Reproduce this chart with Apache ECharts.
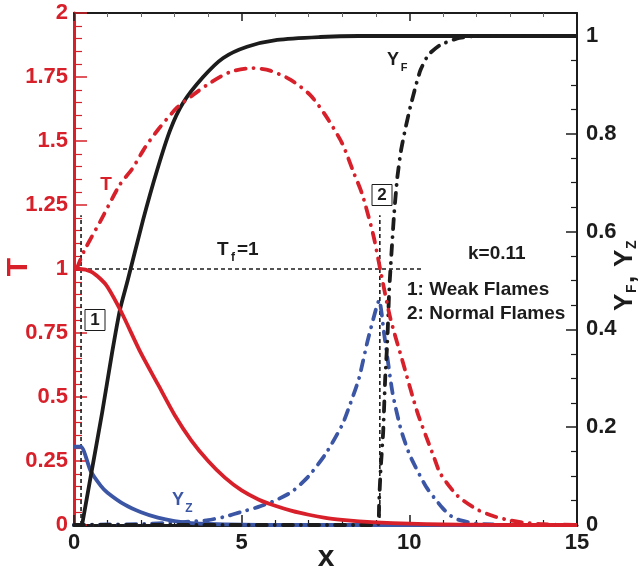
<!DOCTYPE html>
<html><head><meta charset="utf-8">
<script src="https://cdn.jsdelivr.net/npm/echarts/dist/echarts.min.js"></script>
<style>html,body{margin:0;padding:0;background:#fff}#c{width:643px;height:573px}</style>
</head><body><div id="c"></div>
<script>
// ---------- data ----------
const xTicks = [0, 5, 10, 15];
// T, weak flame (solid red, left axis)
const xTw = [0, 0.18, 0.5, 0.8, 1.0, 1.4, 2.0, 2.5, 3.0, 3.5, 4.0, 4.5, 5.0, 5.5, 6.0, 6.5, 7.0, 7.5, 8.0, 8.5, 9.0, 10, 11, 12, 13, 15];
const Tw  = [1.0, 1.0, 0.99, 0.96, 0.93, 0.835, 0.67, 0.55, 0.43, 0.33, 0.25, 0.185, 0.135, 0.1, 0.075, 0.055, 0.04, 0.028, 0.02, 0.014, 0.01, 0.005, 0.002, 0.001, 0, 0];
// T, normal flame (dash-dot red, left axis)
const xTn = [0.08, 0.3, 0.8, 1.37, 1.73, 2.12, 2.51, 3.07, 3.55, 4.06, 4.66, 5.34, 5.85, 6.45, 7.04, 7.5, 8.0, 8.33, 8.6, 8.93, 9.13, 9.43, 9.82, 10.24, 10.72, 10.93, 11.43, 12.0, 12.5, 13.0, 13.5, 14, 15];
const Tn  = [1.0, 1.07, 1.19, 1.33, 1.39, 1.475, 1.545, 1.63, 1.68, 1.727, 1.77, 1.785, 1.775, 1.74, 1.68, 1.60, 1.49, 1.38, 1.29, 1.13, 1.0, 0.81, 0.63, 0.44, 0.27, 0.2, 0.115, 0.062, 0.035, 0.018, 0.008, 0.003, 0];
// Y_F, weak flame (solid black, right axis)
const xFw = [0.24, 0.5, 0.84, 1.13, 1.37, 1.6, 2.06, 2.48, 2.87, 3.25, 3.85, 4.45, 5.16, 6.06, 7.34, 8.5, 15];
const Fw  = [0, 0.1, 0.23, 0.35, 0.44, 0.5, 0.624, 0.726, 0.808, 0.863, 0.916, 0.955, 0.978, 0.992, 0.998, 1.0, 1.0];
// Y_F, normal flame (dash-dot black, right axis)
const xFn = [0, 9.06, 9.1, 9.15, 9.22, 9.28, 9.34, 9.4, 9.49, 9.55, 9.64, 9.75, 9.88, 10.03, 10.18, 10.33, 10.57, 10.93, 11.43, 12, 15];
const Fn  = [0, 0, 0.05, 0.12, 0.19, 0.30, 0.37, 0.48, 0.58, 0.64, 0.71, 0.765, 0.81, 0.855, 0.895, 0.93, 0.962, 0.982, 0.995, 1, 1];
// Y_Z, weak flame (solid blue, right axis)
const xZw = [0, 0.2, 0.5, 0.8, 1.0, 1.5, 2.0, 2.5, 3.0, 3.5, 4, 5, 6, 15];
const Zw  = [0.16, 0.16, 0.11, 0.08, 0.066, 0.042, 0.026, 0.015, 0.008, 0.004, 0.002, 0.0005, 0, 0];
// Y_Z, normal flame (dash-dot blue, right axis)
const xZn = [0, 1, 2, 3, 3.5, 4, 4.5, 5, 5.5, 6, 6.5, 7, 7.5, 8, 8.25, 8.5, 8.75, 9.0, 9.1, 9.25, 9.5, 9.75, 10, 10.25, 10.5, 10.75, 11, 11.25, 11.5, 12, 13, 15];
const Zn  = [0, 0.001, 0.002, 0.005, 0.007, 0.01, 0.017, 0.027, 0.037, 0.05, 0.068, 0.1, 0.145, 0.205, 0.25, 0.3, 0.375, 0.44, 0.46, 0.39, 0.27, 0.195, 0.145, 0.11, 0.078, 0.055, 0.034, 0.018, 0.01, 0.003, 0, 0];
// reference lines
const tfLineX = [0, 10.4];      // T_f = 1 dashed line extent
const tfValue = 1;
const markerX = [0.21, 9.12];   // markers 1 (weak) and 2 (normal)
const markerTop = 1.21;

// ---------- styling ----------
const RED = '#d7202a', BLUE = '#3c56a6', BLACK = '#1c1c1c';
const FONT = '"Liberation Sans", Arial, sans-serif';
const DASHDOT = [10, 8, 0.1, 8];
const zip = (xs, ys) => xs.map((x, i) => [x, ys[i]]);

const chart = echarts.init(document.getElementById('c'), null, {renderer: 'canvas'});

function lineSeries(name, xs, ys, color, dashed, xi, yi, smooth) {
  return {
    name, type: 'line', data: zip(xs, ys), xAxisIndex: xi, yAxisIndex: yi,
    showSymbol: false, symbol: 'none', clip: false,
    smooth: smooth,
    lineStyle: {color, width: 3.8, type: dashed ? DASHDOT : 'solid', cap: dashed ? 'round' : 'butt', join: 'round'},
    z: 5, silent: true, animation: false
  };
}
function thinLine(data) {
  return {type: 'line', data, xAxisIndex: 0, yAxisIndex: 0, showSymbol: false, symbol: 'none', clip: false,
    lineStyle: {color: BLACK, width: 1.6, type: [4, 3]}, z: 3, silent: true, animation: false};
}
function txt(x, y, text, size, color, align, bold) {
  return {type: 'text', x, y, silent: true, z: 100,
    style: {text, font: `${bold === false ? '' : 'bold '}${size}px ${FONT}`, fill: color,
      align: align || 'center', textAlign: align || 'center', verticalAlign: 'middle', textVerticalAlign: 'middle'}};
}
function boxed(cx, cy, label) {
  return [
    {type: 'rect', shape: {x: cx - 10, y: cy - 10.5, width: 20, height: 21}, style: {fill: '#fff', stroke: BLACK, lineWidth: 1}, z: 99, silent: true},
    txt(cx, cy + 0.5, label, 17, BLACK, 'center')
  ];
}

const option = {
  backgroundColor: '#fff',
  animation: false,
  grid: [
    {left: 74, right: 66, top: 13, bottom: 48},
    {left: 74, right: 66, top: 36, bottom: 48}
  ],
  xAxis: [
    {gridIndex: 0, type: 'value', position: 'bottom', min: 0, max: 15, interval: 5,
      axisLine: {show: true, onZero: false, lineStyle: {color: BLACK, width: 3}},
      axisTick: {show: true, inside: true, length: 10, lineStyle: {color: BLACK, width: 1.5}},
      minorTick: {show: true, splitNumber: 5, length: 5, lineStyle: {color: BLACK, width: 1.2}},
      axisLabel: {color: BLACK, fontFamily: FONT, fontWeight: 'bold', fontSize: 22, margin: 7,
        formatter: v => xTicks.includes(v) ? String(v) : ''},
      splitLine: {show: false}},
    {gridIndex: 0, type: 'value', position: 'top', min: 0, max: 15, interval: 5,
      axisLine: {show: true, onZero: false, lineStyle: {color: BLACK, width: 2}},
      axisTick: {show: true, inside: true, length: 8, lineStyle: {color: BLACK, width: 1.5}},
      minorTick: {show: true, splitNumber: 5, length: 4, lineStyle: {color: '#666', width: 1}},
      axisLabel: {show: false}, splitLine: {show: false}},
    {gridIndex: 1, type: 'value', min: 0, max: 15, show: false}
  ],
  yAxis: [
    {gridIndex: 0, type: 'value', position: 'left', min: 0, max: 2, interval: 0.25,
      axisLine: {show: true, onZero: false, lineStyle: {color: RED, width: 3}},
      axisTick: {show: true, inside: true, length: 13, lineStyle: {color: RED, width: 1.5}},
      minorTick: {show: true, splitNumber: 5, length: 8, lineStyle: {color: RED, width: 1.2}},
      axisLabel: {color: RED, fontFamily: FONT, fontWeight: 'bold', fontSize: 22, margin: 6},
      splitLine: {show: false}},
    {gridIndex: 0, type: 'value', position: 'right', min: 0, max: 2,
      axisLine: {show: true, onZero: false, lineStyle: {color: BLACK, width: 2}},
      axisTick: {show: false}, axisLabel: {show: false}, splitLine: {show: false}},
    {gridIndex: 1, type: 'value', position: 'right', min: 0, max: 1, interval: 0.2,
      axisLine: {show: true, onZero: false, lineStyle: {color: BLACK, width: 2}},
      axisTick: {show: true, inside: true, length: 11, lineStyle: {color: BLACK, width: 1.5}},
      minorTick: {show: true, splitNumber: 4, length: 6, lineStyle: {color: BLACK, width: 1.2}},
      axisLabel: {color: BLACK, fontFamily: FONT, fontWeight: 'bold', fontSize: 22, margin: 9},
      splitLine: {show: false}}
  ],
  series: [
    thinLine([[tfLineX[0], tfValue], [tfLineX[1], tfValue]]),
    thinLine([[markerX[0], 0], [markerX[0], markerTop]]),
    thinLine([[markerX[1], 0], [markerX[1], markerTop]]),
    lineSeries('YZ weak', xZw, Zw, BLUE, false, 2, 2, 0.25),
    lineSeries('YZ normal', xZn, Zn, BLUE, true, 2, 2, 0.2),
    lineSeries('YF weak', xFw, Fw, BLACK, false, 2, 2, 0.25),
    lineSeries('YF normal', xFn, Fn, BLACK, true, 2, 2, 0.15),
    lineSeries('T weak', xTw, Tw, RED, false, 0, 0, 0.25),
    lineSeries('T normal', xTn, Tn, RED, true, 0, 0, 0.25)
  ],
  graphic: [
    // axis titles
    {type: 'text', x: 19, y: 267, rotation: Math.PI / 2, silent: true,
      style: {text: 'T', font: `bold 30px ${FONT}`, fill: RED, align: 'center', textAlign: 'center', verticalAlign: 'middle', textVerticalAlign: 'middle'}},
    txt(326, 558, 'x', 30, BLACK, 'center'),
    {type: 'group', x: 625, y: 311, rotation: Math.PI / 2, silent: true, children: [
      txt(0, 0, 'Y', 26, BLACK, 'left'),
      txt(18, 7, 'F', 14, BLACK, 'left'),
      txt(28, 2, ',', 26, BLACK, 'left'),
      txt(44, 0, 'Y', 26, BLACK, 'left'),
      txt(62, 7, 'Z', 14, BLACK, 'left')
    ]},
    // curve labels
    txt(106, 185, 'T', 19, RED, 'center'),
    txt(393, 60, 'Y', 18, BLACK, 'center'),
    txt(404, 68, 'F', 11, BLACK, 'center'),
    txt(178, 500, 'Y', 18, BLUE, 'center'),
    txt(189, 509, 'Z', 12, BLUE, 'center'),
    // annotations
    txt(217, 250, 'T', 19, BLACK, 'left'),
    txt(231, 258, 'f', 12, BLACK, 'left'),
    txt(237, 250, '=1', 19, BLACK, 'left'),
    txt(468, 254, 'k=0.11', 19, BLACK, 'left'),
    txt(407, 290, '1: Weak Flames', 19, BLACK, 'left'),
    txt(407, 314, '2: Normal Flames', 19, BLACK, 'left'),
    ...boxed(95, 320, '1'),
    ...boxed(382, 195, '2')
  ]
};
chart.setOption(option);
</script></body></html>
